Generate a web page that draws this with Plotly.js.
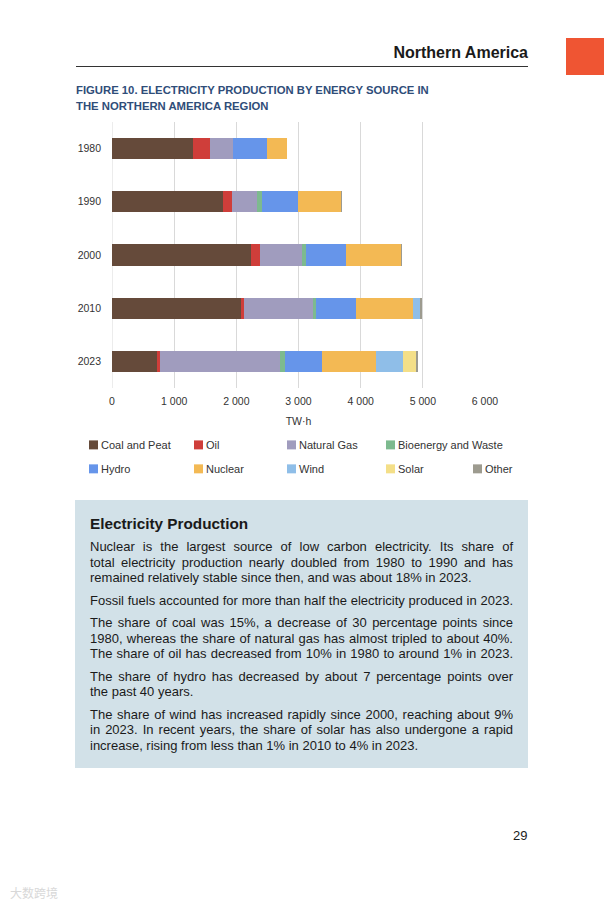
<!DOCTYPE html>
<html>
<head>
<meta charset="utf-8">
<script src="https://cdn.plot.ly/plotly-3.0.1.min.js"></script>
<style>
  html, body { margin:0; padding:0; background:#fff; }
  body { width:604px; height:906px; position:relative; overflow:hidden; font-family:"Liberation Sans", Arial, sans-serif; color:#1a1a1a; }
  .abs { position:absolute; }
  #hdr { right:76px; top:44px; font-size:16px; font-weight:bold; color:#1a1a1a; }
  #hline { left:76px; top:66px; width:452px; height:1px; background:#333; }
  #tab { left:566px; top:38px; width:38px; height:37px; background:#ef5533; }
  #ftitle { left:76px; top:82px; font-size:11.3px; font-weight:bold; color:#2f4d79; line-height:16px; }
  #chart { left:0; top:110px; width:604px; height:390px; }
  #box { left:75px; top:500px; width:423px; height:238px; background:#d2e1e8; padding:15px; }
  #box h3 { margin:0 0 6px 0; font-size:15.3px; font-weight:bold; }
  #box .p { margin:0 0 7px 0; font-size:13px; line-height:15.5px; }
  #box .l { text-align:justify; text-align-last:justify; white-space:nowrap; }
  #box .e { text-align:left; text-align-last:left; white-space:nowrap; }
  #pnum { left:513px; top:828px; font-size:13px; }
  #wm { left:10px; top:884px; font-size:12px; color:#d8d8d8; font-family:"Noto Sans CJK SC", sans-serif; }
</style>
</head>
<body>
<div id="hdr" class="abs">Northern America</div>
<div id="hline" class="abs"></div>
<div id="tab" class="abs"></div>
<div id="ftitle" class="abs">FIGURE 10. ELECTRICITY PRODUCTION BY ENERGY SOURCE IN<br>THE NORTHERN AMERICA REGION</div>
<div id="chart" class="abs"></div>
<div id="box" class="abs">
  <h3>Electricity Production</h3>
  <div class="p">
    <div class="l">Nuclear is the largest source of low carbon electricity. Its share of</div>
    <div class="l">total electricity production nearly doubled from 1980 to 1990 and has</div>
    <div class="e">remained relatively stable since then, and was about 18% in 2023.</div>
  </div>
  <div class="p">
    <div class="l">Fossil fuels accounted for more than half the electricity produced in 2023.</div>
  </div>
  <div class="p">
    <div class="l">The share of coal was 15%, a decrease of 30 percentage points since</div>
    <div class="l">1980, whereas the share of natural gas has almost tripled to about 40%.</div>
    <div class="l">The share of oil has decreased from 10% in 1980 to around 1% in 2023.</div>
  </div>
  <div class="p">
    <div class="l">The share of hydro has decreased by about 7 percentage points over</div>
    <div class="e">the past 40 years.</div>
  </div>
  <div class="p">
    <div class="l">The share of wind has increased rapidly since 2000, reaching about 9%</div>
    <div class="l">in 2023. In recent years, the share of solar has also undergone a rapid</div>
    <div class="e">increase, rising from less than 1% in 2010 to 4% in 2023.</div>
  </div>
</div>
<div id="pnum" class="abs">29</div>
<div id="wm" class="abs">大数跨境</div>
<script>
const years = ["1980", "1990", "2000", "2010", "2023"];
const coalPeat   = [1297, 1779, 2230, 2079, 718];
const oil        = [279, 155, 149, 43, 54];
const naturalGas = [375, 392, 676, 1104, 1929];
const bioenergy  = [0, 85, 64, 54, 75];
const hydro      = [536, 579, 643, 643, 600];
const nuclear    = [321, 697, 879, 921, 868];
const wind       = [0, 0, 5, 108, 429];
const solar      = [0, 0, 1, 5, 225];
const other      = [5, 8, 12, 22, 32];
const seriesNames = ["Coal and Peat", "Oil", "Natural Gas", "Bioenergy and Waste", "Hydro", "Nuclear", "Wind", "Solar", "Other"];
const seriesColors = ["#654a3a", "#cf3e3a", "#a09cbe", "#7dba8f", "#6695ea", "#f3b954", "#8fbee8", "#f4df88", "#9d9b8f"];
const xTicks = [0, 1000, 2000, 3000, 4000, 5000, 6000];
const xTickText = ["0", "1 000", "2 000", "3 000", "4 000", "5 000", "6 000"];

const seriesValues = [coalPeat, oil, naturalGas, bioenergy, hydro, nuclear, wind, solar, other];
const traces = seriesValues.map((vals, i) => ({
  type: "bar", orientation: "h", name: seriesNames[i], y: years, x: vals,
  marker: { color: seriesColors[i], line: { width: 0 } },
  showlegend: false,
  hoverinfo: "x+name"
}));

// plot area in page pixels (chart div is at page top 110)
const DIV_TOP = 110, DIV_H = 390;
const PX0 = 112, PX1 = 485, PY0 = 121.5, PY1 = 388;
const toPaperX = px => (px - PX0) / (PX1 - PX0);
const toPaperY = py => (PY1 - py) / (PY1 - PY0);

// legend layout: row 1 has 4 entries, row 2 has 5
const legendColsRow1 = [89, 194, 287, 386];
const legendColsRow2 = [89, 194, 287, 386, 473];
const legendRows = [445, 469];
const legendShapes = [], legendAnn = [];
seriesNames.forEach((name, i) => {
  const row = i < 4 ? 0 : 1;
  const sx = row === 0 ? legendColsRow1[i] : legendColsRow2[i - 4];
  const sy = legendRows[row];
  legendShapes.push({
    type: "rect", xref: "paper", yref: "paper",
    x0: toPaperX(sx), x1: toPaperX(sx + 9), y0: toPaperY(sy + 4.5), y1: toPaperY(sy - 4.5),
    fillcolor: seriesColors[i], line: { width: 0 }
  });
  legendAnn.push({
    xref: "paper", yref: "paper", x: toPaperX(sx + 9.5), y: toPaperY(sy),
    xanchor: "left", yanchor: "middle", showarrow: false, text: name,
    font: { size: 11, color: "#333" }
  });
});

const layout = {
  barmode: "stack",
  bargap: 0.6,
  width: 604, height: DIV_H,
  margin: { l: PX0, r: 604 - PX1, t: PY0 - DIV_TOP, b: DIV_TOP + DIV_H - PY1 },
  paper_bgcolor: "rgba(0,0,0,0)",
  plot_bgcolor: "rgba(0,0,0,0)",
  font: { family: "Liberation Sans, Arial, sans-serif", size: 11, color: "#333" },
  xaxis: {
    range: [0, 6000], tickvals: xTicks, ticktext: xTickText,
    showgrid: true, gridcolor: "#d9d9d9", gridwidth: 1,
    zeroline: false, showline: false,
    ticks: "", ticklabelstandoff: 5,
    tickfont: { size: 10.5, color: "#333" },
    title: { text: "TW·h", font: { size: 10.5, color: "#333" }, standoff: 12 },
    automargin: false,
    fixedrange: true
  },
  yaxis: {
    type: "category", autorange: "reversed",
    showgrid: false, zeroline: false, showline: false, ticks: "",
    ticklabelstandoff: 10,
    tickfont: { size: 10.5, color: "#333" },
    automargin: false,
    fixedrange: true
  },
  shapes: [{ type: "line", xref: "x", yref: "paper", x0: 0, x1: 0, y0: 0, y1: 1, line: { color: "#d9d9d9", width: 1 }, layer: "below" }].concat(legendShapes),
  annotations: legendAnn,
  showlegend: false
};

Plotly.newPlot("chart", traces, layout, { displayModeBar: false, staticPlot: true });
</script>
</body>
</html>
